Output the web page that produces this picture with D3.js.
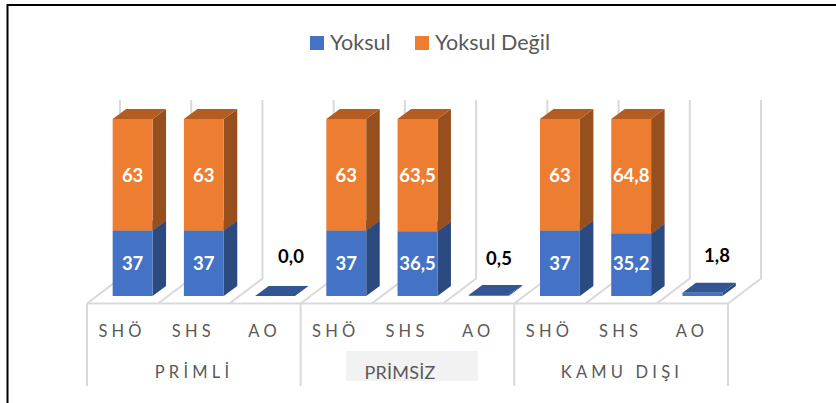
<!DOCTYPE html>
<html><head><meta charset="utf-8">
<style>html,body{margin:0;padding:0;background:#fff}svg{display:block}text{font-family:Lato,"Open Sans",sans-serif}</style>
<script src="https://cdn.jsdelivr.net/npm/d3@7"></script></head><body>
<svg id="c" width="836" height="403"></svg>
<script>
const groups = ["PRİMLİ","PRİMSİZ","KAMU DIŞI"];
const subLabels = ["SHÖ","SHS","AO","SHÖ","SHS","AO","SHÖ","SHS","AO"];
const keys = ["g0a","g0b","g0c","g1a","g1b","g1c","g2a","g2b","g2c"];
const yoksul = [37,37,0,37,36.5,0.5,37,35.2,1.8];
const yoksulDegil = [63,63,null,63,63.5,null,63,64.8,null];
const yoksulText = ["37","37","0,0","37","36,5","0,5","37","35,2","1,8"];
const degilText = ["63","63","","63","63,5","","63","64,8",""];
const legendItems = ["Yoksul","Yoksul Değil"];

const svg = d3.select("#c");
const x0=87,x1=728,floorY=303.5,dxWall=33,dyWall=25,wallTop=100;
const dx=13.5,dy=10,baseY=296;
const floorX = d3.scaleBand().domain(keys).range([x0,x1]);
const bx = d3.scaleBand().domain(keys).range([x0+10,x1+10]).paddingInner(0.44).paddingOuter(0.22);
const y = d3.scaleLinear().domain([0,100]).range([baseY,119]);

// frame: left and top edges only, the right side is cut off
svg.append("path").attr("d",`M7.5,403V5H836`).attr("fill","none").attr("stroke","#000").attr("stroke-width",2);

// walls and floor
const grid="#d9d9d9";
const g=svg.append("g").attr("stroke",grid).attr("stroke-width",2).attr("fill","none");
const stepsX=keys.map(k=>floorX(k)).concat([x1]);
stepsX.forEach(v=>{
  g.append("path").attr("d",`M${v},${floorY}L${v+dxWall},${floorY-dyWall}V${wallTop}`);
});
g.append("line").attr("x1",x0).attr("x2",x1).attr("y1",floorY).attr("y2",floorY);
[0,3,6,9].forEach(i=>{
  g.append("line").attr("x1",stepsX[i]).attr("x2",stepsX[i]).attr("y1",floorY).attr("y2",386);
});

// sub labels
svg.append("g").selectAll("text").data(subLabels).join("text")
  .attr("x",(d,i)=>floorX(keys[i])+floorX.bandwidth()/2-0.5)
  .attr("y",337).attr("text-anchor","middle").attr("font-size",16.5).attr("letter-spacing",4.2).attr("fill","#595959").text(d=>d);

// highlighted group label background
svg.append("rect").attr("x",346).attr("y",351).attr("width",132).attr("height",30).attr("fill","#f2f2f2");
svg.append("g").selectAll("text").data(groups).join("text")
  .attr("x",(d,i)=>[194,400,622][i]).attr("y",(d,i)=>i==1?379:378).attr("text-anchor","middle")
  .attr("font-size",(d,i)=>i==1?18:16.5).attr("letter-spacing",(d,i)=>i==1?0.2:4.2).attr("fill","#595959").text(d=>d);

function box(px,bw,yTop,yBot,front,top,side){
  const s=svg.append("g");
  s.append("path").attr("d",`M${px+bw},${yBot}l${dx},${-dy}V${yTop-dy}l${-dx},${dy}Z`).attr("fill",side);
  s.append("path").attr("d",`M${px},${yTop}l${dx},${-dy}h${bw}l${-dx},${dy}Z`).attr("fill",top);
  s.append("rect").attr("x",px).attr("y",yTop).attr("width",bw).attr("height",Math.max(0,yBot-yTop)).attr("fill",front);
}
keys.forEach((k,i)=>{
  const px=bx(k),bw=bx.bandwidth();
  const a=yoksul[i],b=yoksulDegil[i];
  box(px,bw,y(a),y(0),"#4472c4","#335593","#2a4a80");
  if(b!=null) box(px,bw,y(a+b),y(a),"#ed7d31","#b45c21","#974f1d");
});

// data labels
const lab=svg.append("g").attr("font-weight",700).attr("font-size",18.5).attr("text-anchor","middle");
const outsideLabel={2:[291,263],5:[499,265],8:[717,262]};
keys.forEach((k,i)=>{
  const cx=bx(k)+bx.bandwidth()/2;
  if(yoksulDegil[i]!=null){
    lab.append("text").attr("x",cx).attr("y",270).attr("fill","#fff").text(yoksulText[i]);
    lab.append("text").attr("x",cx).attr("y",182).attr("fill","#fff").text(degilText[i]);
  } else {
    lab.append("text").attr("x",outsideLabel[i][0]).attr("y",outsideLabel[i][1]).attr("fill","#000").text(yoksulText[i]);
  }
});

// legend
const lx=[310,415], ltx=[330,435];
legendItems.forEach((t,i)=>{
  svg.append("rect").attr("x",lx[i]).attr("y",36).attr("width",14).attr("height",14).attr("fill",i?"#ed7d31":"#4472c4");
  svg.append("text").attr("x",ltx[i]).attr("y",50).attr("font-size",21.5).attr("fill","#595959").text(t);
});
</script></body></html>
